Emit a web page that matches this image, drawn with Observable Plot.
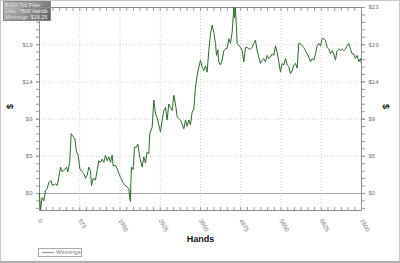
<!DOCTYPE html>
<html>
<head>
<meta charset="utf-8">
<script src="https://cdn.jsdelivr.net/npm/d3@7"></script>
<script src="https://cdn.jsdelivr.net/npm/@observablehq/plot@0.6"></script>
<style>
  html, body { margin: 0; padding: 0; background: #fff; }
  #wrap { position: relative; width: 400px; height: 263px; overflow: hidden; font-family: "Liberation Sans", Arial, sans-serif; }
  #wrap svg { position: absolute; left: 0; top: 0; }
  #border { position: absolute; left: 0; top: 0; width: 398px; height: 260px; border: 1px solid #c8c8c8; border-bottom: 2px solid #b0b0b0; pointer-events: none; }
  #infobox { position: absolute; left: 3px; top: 1px; width: 48px; height: 20px; background: linear-gradient(135deg, #c4c4c4 0%, #9a9a9a 45%, #5e5e5e 100%); border: 1px solid #888; box-sizing: border-box; }
  #legend { position: absolute; left: 38px; top: 248px; width: 44px; height: 9px; border: 1px solid #aaa; box-sizing: border-box; font-size: 6px; line-height: 7px; color: #777; }
  #legend .sw { position: absolute; left: 3px; top: 3px; width: 12px; height: 0; border-top: 1px solid #7fa77f; }
  #legend .lb { position: absolute; left: 17px; top: 0px; }
</style>
</head>
<body>
<div id="wrap">
  <div id="infobox"></div>
  <div id="chart"></div>
  <div id="legend"><span class="sw"></span><span class="lb">Winnings</span></div>
  <div id="border"></div>
</div>
<script>
const infoLines = ["Filter: No Filter", "Last: 7800 Hands", "Winnings: $16.25"];

const hands = [0,24,65,105,145,186,226,283,307,388,428,468,509,549,589,630,654,686,735,767,815,856,896,937,977,1033,1074,1114,1155,1195,1235,1259,1300,1356,1397,1437,1477,1518,1558,1598,1639,1679,1720,1760,1784,1841,1881,1962,2042,2123,2164,2190,2204,2212,2228,2269,2301,2349,2382,2430,2487,2527,2567,2608,2648,2672,2729,2769,2810,2850,2931,2971,3011,3052,3092,3132,3173,3213,3253,3294,3334,3374,3415,3455,3496,3536,3576,3617,3657,3697,3738,3778,3819,3859,3899,3940,3980,4021,4061,4101,4142,4182,4222,4263,4287,4319,4343,4384,4424,4465,4505,4545,4586,4626,4667,4707,4723,4747,4788,4868,4909,4949,4989,5030,5070,5110,5151,5191,5232,5272,5312,5353,5393,5433,5474,5514,5555,5595,5635,5676,5716,5756,5797,5837,5878,5918,5958,5999,6039,6079,6120,6160,6200,6241,6281,6321,6362,6402,6443,6483,6523,6564,6604,6644,6685,6725,6765,6806,6846,6886,6927,6967,7007,7048,7088,7128,7169,7209,7249,7290,7330,7370,7411,7451,7491,7532,7572,7612,7653,7693,7733,7774,7800];
const winnings = [0,-2.1,-0.5,-0.9,0.4,0.6,1.4,1.6,1.0,1.2,1.0,2.0,3.3,2.7,2.9,3.1,3.3,2.7,4.1,7.5,7.1,6.9,5.2,4.8,3.1,2.7,2.5,1.9,2.3,3.3,2.9,1.0,1.9,1.7,2.9,4.1,3.9,4.3,3.9,4.8,4.1,4.6,3.9,4.8,3.5,3.5,3.1,2.0,1.2,0.8,0.6,-0.7,-1.0,1.2,3.3,3.0,5.8,5.8,6.2,4.5,3.3,4.6,3.8,5.2,5.0,7.5,8.3,11.7,10.0,9.5,7.7,9.2,10.4,10.8,9.2,11.2,10.8,10.4,12.3,11.2,9.6,9.4,9.2,8.7,8.1,9.2,8.4,9.2,8.6,10.2,10.6,13.3,14.8,15.8,16.7,15.8,15.4,16.0,15.2,17.9,20.0,21.1,20.2,18.8,17.3,18.0,16.5,16.1,16.7,17.9,18.1,18.2,19.4,18.8,20.2,23.3,22.0,23.3,18.8,18.3,17.9,16.5,18.3,18.3,18.1,18.1,18.3,18.8,19.2,17.9,17.1,16.3,16.7,16.9,16.5,17.3,16.9,17.1,17.5,17.3,18.5,17.7,16.5,15.2,16.3,16.1,16.9,16.1,15.9,15.0,15.4,16.1,16.3,15.7,18.8,18.8,18.5,18.3,17.9,17.5,17.1,16.5,16.9,16.7,17.5,18.5,18.8,18.5,19.4,19.4,19.2,18.3,18.1,17.5,17.9,17.5,16.7,17.9,18.1,17.9,18.1,17.9,18.1,18.5,18.8,18.1,17.5,17.5,16.9,17.3,16.5,16.9,16.25];

const xTicks = [0,975,1950,2925,3900,4875,5850,6825,7800];
const yTicks = [0,4.66,9.32,13.98,18.64,23.3];
const xMinor = d3.range(0, 7800.1, 162.5);
const yMinor = d3.range(-1.864, 23.31, 0.932);

const data = hands.map((h, i) => ({hands: h, value: winnings[i]}));

const chart = Plot.plot({
  width: 400,
  height: 263,
  marginLeft: 39,
  marginRight: 39,
  marginTop: 7,
  marginBottom: 53,
  x: {domain: [0, 7800]},
  y: {domain: [-2.13, 23.3]},
  style: {fontFamily: "'Liberation Sans', Arial, sans-serif", fontSize: "6px", color: "#777", background: "transparent", overflow: "visible"},
  marks: [
    Plot.gridX(xTicks, {stroke: "#cfcfcf", strokeOpacity: 1, strokeDasharray: "1,2"}),
    Plot.gridY(yTicks, {stroke: "#cfcfcf", strokeOpacity: 1, strokeDasharray: "1,2"}),
    Plot.ruleY([0], {stroke: "#aaa"}),
    Plot.frame({stroke: "#8a8a8a"}),
    Plot.axisY(yMinor, {anchor: "left", tickSize: 3, tickFormat: () => "", label: null, stroke: "#999"}),
    Plot.axisY(yTicks, {anchor: "left", tickSize: 3, tickPadding: 4, tickFormat: d => "$" + Math.round(d), label: null, stroke: "#999"}),
    Plot.axisY(yMinor, {anchor: "right", tickSize: 3, tickFormat: () => "", label: null, stroke: "#999"}),
    Plot.axisY(yTicks, {anchor: "right", tickSize: 3, tickPadding: 4, tickFormat: d => "$" + Math.round(d), label: null, stroke: "#999"}),
    Plot.axisX(xMinor, {anchor: "bottom", tickSize: -3, tickFormat: () => "", label: null, stroke: "#999"}),
    Plot.axisX(xMinor, {anchor: "top", tickSize: -3, tickFormat: () => "", label: null, stroke: "#999"}),
    Plot.axisX(xTicks, {anchor: "bottom", tickSize: 0, tickPadding: 9, tickRotate: 60, tickFormat: d => String(d), label: null}),
    Plot.line(data, {x: "hands", y: "value", stroke: "#2c6a2c", strokeWidth: 1, clip: true}),
    Plot.text([infoLines.join("\n")], {frameAnchor: "top-left", dx: -34, dy: -5, textAnchor: "start", lineAnchor: "top", lineHeight: 1.1, fontSize: 5.4, fill: "#fafafa", stroke: "#666", strokeWidth: 0.3}),
    Plot.text(["Hands"], {frameAnchor: "bottom", dy: 31, fontSize: 9, fontWeight: "bold", fill: "#111"}),
    Plot.text(["$"], {frameAnchor: "left", dx: -29, rotate: -90, fontSize: 9, fontWeight: "bold", fill: "#111"}),
    Plot.text(["$"], {frameAnchor: "right", dx: 24, rotate: 90, fontSize: 9, fontWeight: "bold", fill: "#111"})
  ]
});
document.getElementById("chart").appendChild(chart);
</script>
</body>
</html>
